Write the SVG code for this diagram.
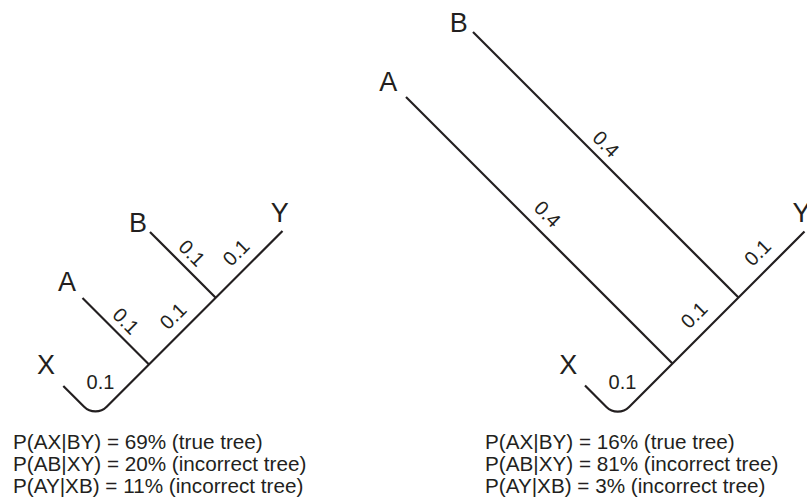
<svg xmlns="http://www.w3.org/2000/svg" width="807" height="504" viewBox="0 0 807 504">
<style>
.br{fill:none;stroke:#231f20;stroke-width:2.2;stroke-linecap:butt}
.lab{font-family:"Liberation Sans",Arial,sans-serif;font-size:27px;fill:#231f20;text-anchor:middle}
.len{font-family:"Liberation Sans",Arial,sans-serif;font-size:20px;fill:#231f20;text-anchor:middle}
.cap{font-family:"Liberation Sans",Arial,sans-serif;font-size:20.7px;fill:#231f20}
</style>
<rect width="807" height="504" fill="#fff"/>
<g id="connectors">
<path class="br" d="M63.3 386 L84.1 406.8 A16 16 0 0 0 106.7 406.8 L282.5 231"/>
<path class="br" d="M82.5 298 L149 364.5"/>
<path class="br" d="M150 232 L215.75 297.75"/>
<path class="br" d="M585 385.5 L606.44 406.94 A16 16 0 0 0 629.06 406.94 L804.5 231.5"/>
<path class="br" d="M406 97 L672.5 363.5"/>
<path class="br" d="M473 32 L738.5 297.5"/>
</g>
<g id="left-tree">
<g id="L-X"><text class="lab" x="46" y="374">X</text></g>
<g id="L-A"><text class="lab" x="67" y="290.7">A</text></g>
<g id="L-B"><text class="lab" x="138" y="231.7">B</text></g>
<g id="L-Y"><text class="lab" x="279.7" y="221.7">Y</text></g>
<g id="L-lengths">
<text class="len" x="100.5" y="389">0.1</text>
<text class="len" transform="translate(126 321) rotate(45)" dy="0.35em">0.1</text>
<text class="len" transform="translate(173 316) rotate(-45)" dy="0.35em">0.1</text>
<text class="len" transform="translate(192 253) rotate(45)" dy="0.35em">0.1</text>
<text class="len" transform="translate(236 252.5) rotate(-45)" dy="0.35em">0.1</text>
</g>
</g>
<g id="right-tree">
<g id="R-X"><text class="lab" x="568.3" y="374">X</text></g>
<g id="R-A"><text class="lab" x="388.3" y="90.7">A</text></g>
<g id="R-B"><text class="lab" x="458.7" y="31.7">B</text></g>
<g id="R-Y"><text class="lab" x="801.5" y="222">Y</text></g>
<g id="R-lengths">
<text class="len" x="622.5" y="388.5">0.1</text>
<text class="len" transform="translate(547.5 214) rotate(45)" dy="0.35em">0.4</text>
<text class="len" transform="translate(606 144) rotate(45)" dy="0.35em">0.4</text>
<text class="len" transform="translate(694 315) rotate(-45)" dy="0.35em">0.1</text>
<text class="len" transform="translate(757.5 252.5) rotate(-45)" dy="0.35em">0.1</text>
</g>
</g>
<g id="left-caption">
<text class="cap" x="13" y="448.5">P(AX|BY) = 69% (true tree)</text>
<text class="cap" x="13" y="470.8">P(AB|XY) = 20% (incorrect tree)</text>
<text class="cap" x="13" y="493">P(AY|XB) = 11% (incorrect tree)</text>
</g>
<g id="right-caption">
<text class="cap" x="485" y="448.5">P(AX|BY) = 16% (true tree)</text>
<text class="cap" x="485" y="470.8">P(AB|XY) = 81% (incorrect tree)</text>
<text class="cap" x="485" y="493">P(AY|XB) = 3% (incorrect tree)</text>
</g>
</svg>
